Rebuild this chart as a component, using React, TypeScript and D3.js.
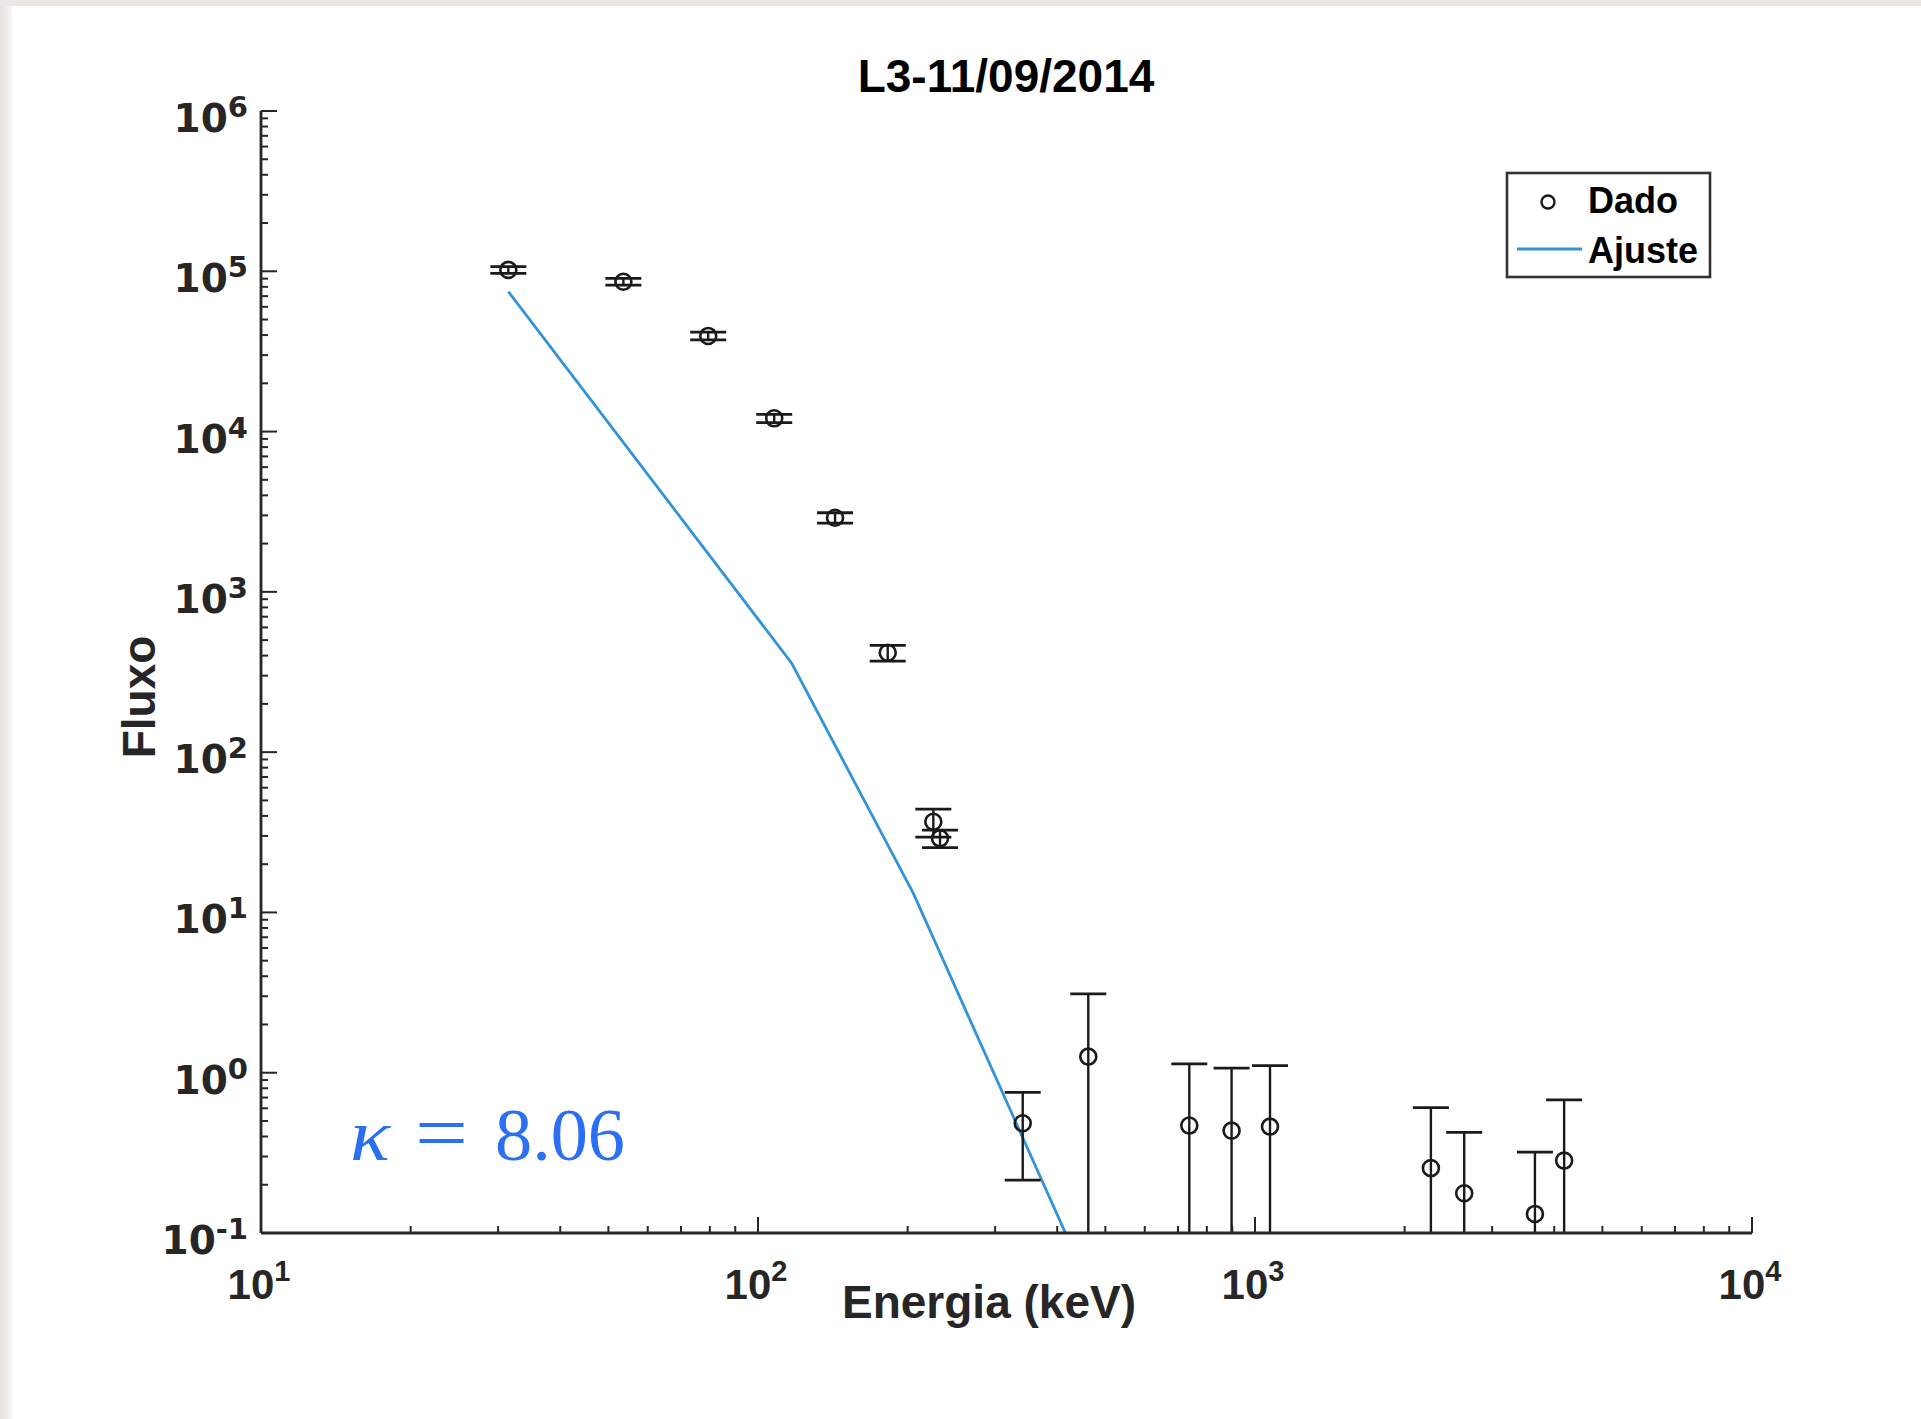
import React from 'react';
import * as d3 from 'd3';

// Data
const energy = [31.45, 53.6, 79.4, 107.8, 142.9, 182.4, 225.3, 232.4, 340.9, 461.9, 737.6, 897.2, 1072, 2259, 2636, 3658, 4188];
const flux = [1.02e5, 8.61e4, 3.95e4, 1.21e4, 2.9e3, 417, 36.8, 29.0, 0.484, 1.26, 0.468, 0.435, 0.461, 0.254, 0.177, 0.1315, 0.283];
const fluxErr = [5000, 4200, 2200, 720, 215, 47, 7.3, 3.6, 0.27, 1.84, 0.667, 0.632, 0.646, 0.352, 0.248, 0.188, 0.393];
const fitEnergy = [31.45, 116.9, 205.3, 462];
const fitFlux = [7.47e4, 358.5, 13.18, 0.048];
const xDecades = [1, 2, 3, 4];
const yDecades = [-1, 0, 1, 2, 3, 4, 5, 6];
const titleText = 'L3-11/09/2014';
const xLabel = 'Energia (keV)';
const yLabel = 'Fluxo';
const legendLabels = ['Dado', 'Ajuste'];
const kappaValue = '8.06';

const W = 1921;
const H = 1419;
const X0 = 261, X1 = 1752, Y0 = 1233, Y1 = 111;
const AX = '#262626';
const BLUE = '#3393d8';
const KBLUE = '#2b6ff2';

export default function App() {
  const x = d3.scaleLog().domain([10, 1e4]).range([X0, X1]);
  const y = d3.scaleLog().domain([0.1, 1e6]).range([Y0, Y1]);

  const xMinor: number[] = [];
  for (let k = 1; k < 4; k++) for (let m = 2; m <= 9; m++) xMinor.push(m * Math.pow(10, k));
  const yMinor: number[] = [];
  for (let k = -1; k < 6; k++) for (let m = 2; m <= 9; m++) yMinor.push(m * Math.pow(10, k));

  const line = d3.line<number>().x((_, i) => x(fitEnergy[i])).y((_, i) => y(fitFlux[i]));
  const fitPath = line(fitEnergy.map((_, i) => i)) || '';

  const cap = 18;
  const tickFont = '"DejaVu Sans", sans-serif';
  const mainFont = '"Liberation Sans", Arial, sans-serif';

  return (
    <svg width={W} height={H} style={{ position: 'absolute', left: 0, top: 0 }} xmlns="http://www.w3.org/2000/svg">
      <defs>
        <linearGradient id="leftEdge" x1="0" x2="1" y1="0" y2="0">
          <stop offset="0" stopColor="#e6e3de" />
          <stop offset="1" stopColor="#f6f5f3" />
        </linearGradient>
        <clipPath id="plotClip">
          <rect x={X0} y={Y1 - 30} width={X1 - X0 + 30} height={Y0 - Y1 + 30} />
        </clipPath>
      </defs>
      <rect x={0} y={0} width={W} height={H} fill="#ebe8e3" />
      <rect x={0} y={6} width={12} height={H - 6} fill="url(#leftEdge)" />
      <rect x={12} y={6} width={W - 12} height={H - 6} fill="#ffffff" />

      {/* Title */}
      <text x={1006} y={92} textAnchor="middle" fontFamily={mainFont} fontWeight="bold" fontSize={46} fill="#000">{titleText}</text>

      {/* Fit line */}
      <g clipPath="url(#plotClip)">
        <path d={fitPath} fill="none" stroke={BLUE} strokeWidth={2.8} />
      </g>

      {/* Error bars and markers */}
      <g clipPath="url(#plotClip)" stroke="#1a1a1a" strokeWidth={2.4} fill="none">
        {energy.map((e, i) => {
          const cx = x(e);
          const hi = flux[i] + fluxErr[i];
          const lo = flux[i] - fluxErr[i];
          const yHi = y(hi);
          const yLo = lo > 0 ? y(lo) : Y0 + 40;
          return (
            <g key={i}>
              <line x1={cx} x2={cx} y1={yHi} y2={yLo} />
              <line x1={cx - cap} x2={cx + cap} y1={yHi} y2={yHi} strokeWidth={2.8} />
              {lo > 0 && <line x1={cx - cap} x2={cx + cap} y1={yLo} y2={yLo} strokeWidth={2.8} />}
              <circle cx={cx} cy={y(flux[i])} r={8} strokeWidth={2.6} />
            </g>
          );
        })}
      </g>

      {/* Axes */}
      <g stroke={AX} fill="none">
        <line x1={X0} x2={X1} y1={Y0} y2={Y0} strokeWidth={2.8} />
        <line x1={X0} x2={X0} y1={Y0} y2={Y1} strokeWidth={2.8} />
        {xDecades.map((k) => (
          <line key={'xM' + k} x1={x(Math.pow(10, k))} x2={x(Math.pow(10, k))} y1={Y0} y2={Y0 - 16} strokeWidth={2} />
        ))}
        {xMinor.map((v, i) => (
          <line key={'xm' + i} x1={x(v)} x2={x(v)} y1={Y0} y2={Y0 - 7} strokeWidth={2} />
        ))}
        {yDecades.map((k) => (
          <line key={'yM' + k} x1={X0} x2={X0 + 16} y1={y(Math.pow(10, k))} y2={y(Math.pow(10, k))} strokeWidth={2} />
        ))}
        {yMinor.map((v, i) => (
          <line key={'ym' + i} x1={X0} x2={X0 + 7} y1={y(v)} y2={y(v)} strokeWidth={2} />
        ))}
      </g>

      {/* X tick labels */}
      {xDecades.map((k) => (
        <text key={'xl' + k} x={x(Math.pow(10, k)) - 2} y={Y0 + 66} textAnchor="middle" fontFamily={mainFont} fontWeight="bold" fontSize={42} fill="#262626">
          <tspan>10</tspan>
          <tspan dy={-18} fontSize={29}>{String(k)}</tspan>
        </text>
      ))}

      {/* Y tick labels */}
      {yDecades.map((k) => (
        <text key={'yl' + k} x={248} y={y(Math.pow(10, k)) + 21} textAnchor="end" fontFamily={tickFont} fontWeight="bold" fontSize={39} fill="#262626">
          <tspan>10</tspan>
          <tspan dy={-15} fontSize={29}>{k < 0 ? '-' + String(-k) : String(k)}</tspan>
        </text>
      ))}

      {/* Axis labels */}
      <text x={989} y={1318} textAnchor="middle" fontFamily={mainFont} fontWeight="bold" fontSize={46} fill="#262626">{xLabel}</text>
      <text transform="translate(155,697) rotate(-90)" textAnchor="middle" fontFamily={mainFont} fontWeight="bold" fontSize={46} fill="#262626">{yLabel}</text>

      {/* Legend */}
      <rect x={1507} y={173} width={203} height={104} fill="#ffffff" stroke="#333" strokeWidth={2.6} />
      <circle cx={1548} cy={202} r={6.5} fill="none" stroke="#1a1a1a" strokeWidth={2.4} />
      <text x={1588} y={213} fontFamily={mainFont} fontWeight="bold" fontSize={36} fill="#000">{legendLabels[0]}</text>
      <line x1={1517} x2={1582} y1={249} y2={249} stroke={BLUE} strokeWidth={2.8} />
      <text x={1588} y={263} fontFamily={mainFont} fontWeight="bold" fontSize={36} fill="#000">{legendLabels[1]}</text>

      {/* Kappa annotation */}
      <text x={350} y={1160} fontFamily='"Liberation Serif", serif' fontStyle="italic" fontSize={74} fill={KBLUE} textLength={40} lengthAdjust="spacingAndGlyphs">κ</text>
      <text x={415} y={1160} fontFamily='"Liberation Serif", serif' fontSize={80} fill={KBLUE} textLength={53} lengthAdjust="spacingAndGlyphs">=</text>
      <text x={495} y={1160} fontFamily='"Liberation Serif", serif' fontSize={74} fill={KBLUE} textLength={130} lengthAdjust="spacingAndGlyphs">{kappaValue}</text>
    </svg>
  );
}
